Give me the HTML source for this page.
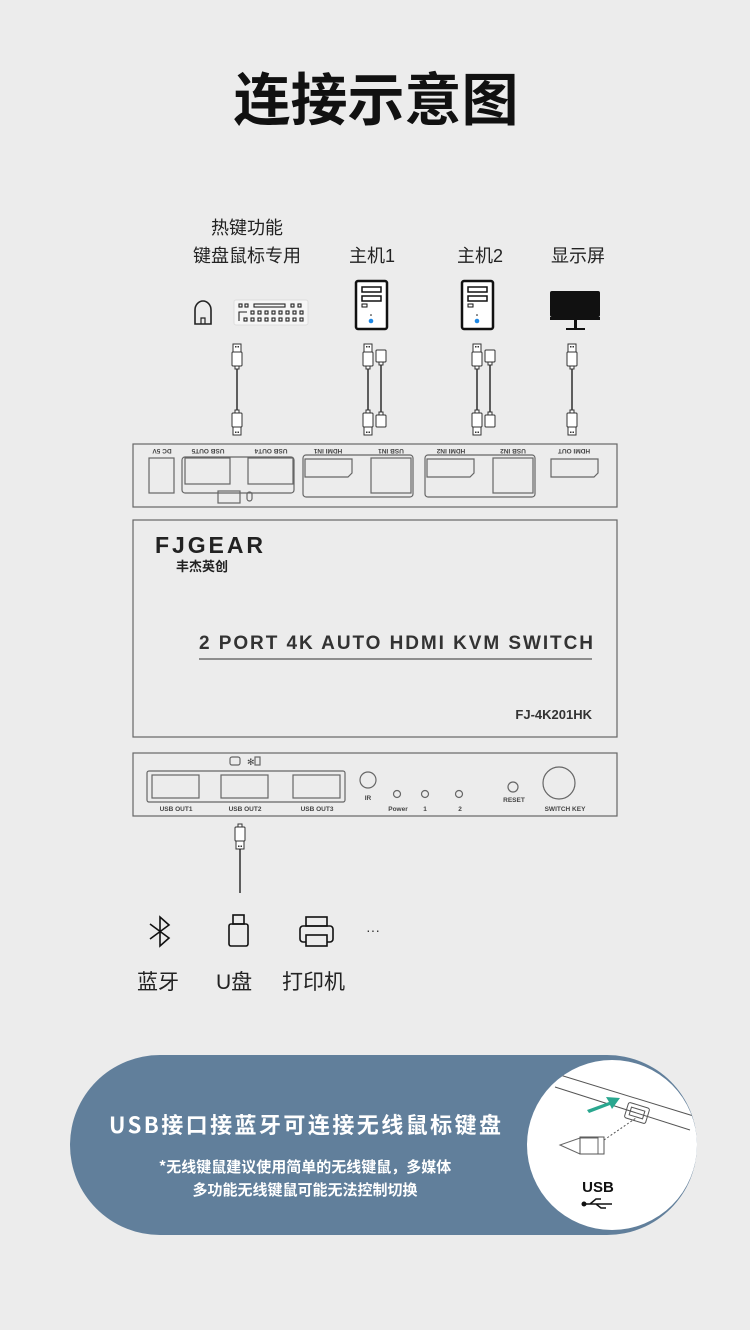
<!DOCTYPE html>
<html><head><meta charset="utf-8"><style>
body{margin:0;background:#ececec;}
svg{display:block}
text{font-family:"Liberation Sans","Noto Sans CJK SC",sans-serif;}
</style></head><body>
<svg width="750" height="1330" viewBox="0 0 750 1330" xmlns="http://www.w3.org/2000/svg">
<rect width="750" height="1330" fill="#ececec"/>
<text x="376" y="120" text-anchor="middle" font-size="57" font-weight="bold" fill="#111" style="font-family:'Noto Sans CJK SC',sans-serif">连接示意图</text>
<g font-size="18" fill="#222" text-anchor="middle" style="font-family:'Noto Sans CJK SC',sans-serif">
<text x="247" y="234">热键功能</text>
<text x="247" y="262">键盘鼠标专用</text>
<text x="372" y="262">主机1</text>
<text x="480" y="262">主机2</text>
<text x="578" y="262">显示屏</text>
</g>
<path d="M195 324 V310 a8 9 0 0 1 16 0 V324 Z" fill="none" stroke="#222" stroke-width="1.6"/>
<path d="M201 324 v-6 h4 v6" fill="none" stroke="#222" stroke-width="1.2"/>
<rect x="234" y="300" width="74" height="25" rx="2" fill="#f6f6f6" stroke="#ddd"/>
<g fill="none" stroke="#222" stroke-width="1.1">
<rect x="239" y="304" width="3" height="3"/><rect x="245" y="304" width="3" height="3"/><rect x="254" y="304" width="31" height="3"/><rect x="291" y="304" width="3" height="3"/><rect x="298" y="304" width="3" height="3"/>
<path d="M239 321 V312 H247"/>
<rect x="251" y="311" width="3" height="3"/><rect x="258" y="311" width="3" height="3"/><rect x="265" y="311" width="3" height="3"/><rect x="272" y="311" width="3" height="3"/><rect x="279" y="311" width="3" height="3"/><rect x="286" y="311" width="3" height="3"/><rect x="293" y="311" width="3" height="3"/><rect x="300" y="311" width="3" height="3"/>
<rect x="244" y="318" width="3" height="3"/><rect x="251" y="318" width="3" height="3"/><rect x="258" y="318" width="3" height="3"/><rect x="265" y="318" width="3" height="3"/><rect x="272" y="318" width="3" height="3"/><rect x="279" y="318" width="3" height="3"/><rect x="286" y="318" width="3" height="3"/><rect x="293" y="318" width="3" height="3"/><rect x="300" y="318" width="3" height="3"/>
</g>
<g id="pc">
<rect x="356" y="281" width="31" height="48" rx="2" fill="#fff" stroke="#111" stroke-width="2.5"/>
<rect x="362" y="287" width="19" height="5" fill="none" stroke="#111" stroke-width="1.5"/>
<rect x="362" y="296" width="19" height="5" fill="none" stroke="#111" stroke-width="1.5"/>
<rect x="362" y="304" width="5" height="3" fill="none" stroke="#111" stroke-width="1"/>
<circle cx="371" cy="315" r="0.8" fill="#111"/>
<circle cx="371" cy="321" r="2.3" fill="#1e88e5"/>
</g>
<use href="#pc" x="106"/>
<rect x="550" y="291" width="50" height="26" rx="2" fill="#111"/>
<rect x="550" y="317" width="50" height="3" fill="#111"/>
<rect x="574" y="320" width="3" height="8" fill="#111"/>
<rect x="566" y="328" width="19" height="2" fill="#111"/>
<defs>
<g id="plugT"><rect x="-4" y="0" width="8" height="8" fill="#fff" stroke="#333"/><rect x="-2" y="2" width="1.5" height="1.5" fill="#333"/><rect x="0.5" y="2" width="1.5" height="1.5" fill="#333"/><rect x="-5" y="8" width="10" height="14" rx="1" fill="#fff" stroke="#333"/><rect x="-2" y="22" width="4" height="3" fill="#fff" stroke="#333"/></g>
<g id="plugB"><use href="#plugT" transform="scale(1,-1)"/></g>
<g id="hT"><rect x="-5" y="0" width="10" height="12" rx="1" fill="#fff" stroke="#333"/><rect x="-2" y="12" width="4" height="3" fill="#fff" stroke="#333"/></g>
<g id="hB"><use href="#hT" transform="scale(1,-1)"/></g>
</defs>
<g stroke="#111" stroke-width="1.3">
<line x1="237" y1="368" x2="237" y2="410"/>
<line x1="368" y1="368" x2="368" y2="410"/>
<line x1="381" y1="365" x2="381" y2="413"/>
<line x1="477" y1="368" x2="477" y2="410"/>
<line x1="490" y1="365" x2="490" y2="413"/>
<line x1="572" y1="368" x2="572" y2="410"/>
</g>
<use href="#plugT" x="237" y="344"/><use href="#plugB" x="237" y="435"/>
<use href="#plugT" x="368" y="344"/><use href="#plugB" x="368" y="435"/>
<use href="#hT" x="381" y="350"/><use href="#hB" x="381" y="427"/>
<use href="#plugT" x="477" y="344"/><use href="#plugB" x="477" y="435"/>
<use href="#hT" x="490" y="350"/><use href="#hB" x="490" y="427"/>
<use href="#plugT" x="572" y="344"/><use href="#plugB" x="572" y="435"/>
<g fill="none" stroke="#666" stroke-width="1.2">
<rect x="133" y="444" width="484" height="63"/>
<rect x="149" y="458" width="25" height="35"/>
<rect x="182" y="457" width="112" height="36" rx="3"/>
<rect x="185" y="458" width="45" height="26"/>
<rect x="248" y="458" width="45" height="26"/>
<rect x="303" y="455" width="110" height="42" rx="3"/>
<path d="M305 459 H352 V473 L348 477 H305 Z"/>
<rect x="371" y="458" width="40" height="35"/>
<rect x="425" y="455" width="110" height="42" rx="3"/>
<path d="M427 459 H474 V473 L470 477 H427 Z"/>
<rect x="493" y="458" width="40" height="35"/>
<path d="M551 459 H598 V473 L594 477 H551 Z"/>
<rect x="218" y="491" width="22" height="12"/>
<rect x="247" y="492" width="5" height="9" rx="2.5"/>
</g>
<g font-size="6.5" fill="#444" text-anchor="middle" font-weight="bold">
<text x="162" y="453" transform="rotate(180 162 451)">DC 5V</text>
<text x="208" y="453" transform="rotate(180 208 451)">USB OUT5</text>
<text x="271" y="453" transform="rotate(180 271 451)">USB OUT4</text>
<text x="328" y="453" transform="rotate(180 328 451)">HDMI IN1</text>
<text x="391" y="453" transform="rotate(180 391 451)">USB IN1</text>
<text x="451" y="453" transform="rotate(180 451 451)">HDMI IN2</text>
<text x="513" y="453" transform="rotate(180 513 451)">USB IN2</text>
<text x="574" y="453" transform="rotate(180 574 451)">HDMI OUT</text>
</g>
<rect x="133" y="520" width="484" height="217" fill="none" stroke="#666" stroke-width="1.2"/>
<text x="155" y="553" font-size="23" font-weight="bold" fill="#222" textLength="108">FJGEAR</text>
<text x="176" y="571" font-size="13" font-weight="bold" fill="#222" style="font-family:'Noto Sans CJK SC',sans-serif">丰杰英创</text>
<text x="593" y="649" font-size="19" fill="#333" text-anchor="end" font-weight="bold" textLength="394">2 PORT 4K AUTO HDMI KVM SWITCH</text>
<line x1="199" y1="659" x2="592" y2="659" stroke="#555" stroke-width="1.2"/>
<text x="592" y="719" font-size="13" fill="#333" text-anchor="end" font-weight="bold">FJ-4K201HK</text>
<g fill="none" stroke="#666" stroke-width="1.2">
<rect x="133" y="753" width="484" height="63"/>
<rect x="147" y="771" width="198" height="31" rx="2"/>
<rect x="152" y="775" width="47" height="23"/>
<rect x="221" y="775" width="47" height="23"/>
<rect x="293" y="775" width="47" height="23"/>
<circle cx="368" cy="780" r="8"/>
<circle cx="397" cy="794" r="3.5"/>
<circle cx="425" cy="794" r="3.5"/>
<circle cx="459" cy="794" r="3.5"/>
<circle cx="513" cy="787" r="5"/>
<circle cx="559" cy="783" r="16"/>
<rect x="230" y="757" width="10" height="8" rx="2"/>
<rect x="255" y="757" width="5" height="8"/>
</g>
<text x="247" y="765" font-size="9" fill="#444">✻</text>
<g font-size="6.5" fill="#444" text-anchor="middle" font-weight="bold">
<text x="176" y="811">USB OUT1</text><text x="245" y="811">USB OUT2</text><text x="317" y="811">USB OUT3</text>
<text x="368" y="800">IR</text><text x="398" y="811">Power</text><text x="425" y="811">1</text><text x="460" y="811">2</text>
<text x="514" y="802">RESET</text><text x="565" y="811">SWITCH KEY</text>
</g>
<use href="#plugB" x="240" y="849"/>
<line x1="240" y1="849" x2="240" y2="893" stroke="#111" stroke-width="1.3"/>
<path d="M150 924 L169 938 L160 946 V917 L169 925 L150 939" fill="none" stroke="#111" stroke-width="1.6"/>
<rect x="229" y="924" width="19" height="22" rx="2" fill="none" stroke="#111" stroke-width="1.6"/>
<rect x="233" y="915" width="11" height="9" fill="none" stroke="#111" stroke-width="1.6"/>
<rect x="306" y="917" width="21" height="9" fill="none" stroke="#111" stroke-width="1.6"/>
<rect x="300" y="926" width="33" height="16" rx="3" fill="none" stroke="#111" stroke-width="1.6"/>
<rect x="306" y="935" width="21" height="11" fill="#ececec" stroke="#111" stroke-width="1.6"/>
<text x="366" y="935" font-size="14" fill="#333">···</text>
<g font-size="21" fill="#222" style="font-family:'Noto Sans CJK SC',sans-serif">
<text x="137" y="989">蓝牙</text><text x="216" y="989">U盘</text><text x="282" y="989">打印机</text>
</g>
<rect x="70" y="1055" width="627" height="180" rx="90" fill="#617f9b"/>
<text x="305" y="1133" font-size="22" font-weight="bold" fill="#fff" text-anchor="middle" textLength="392" style="font-family:'Noto Sans CJK SC',sans-serif">USB接口接蓝牙可连接无线鼠标键盘</text>
<text x="305" y="1172" font-size="15" font-weight="bold" fill="#fff" text-anchor="middle" style="font-family:'Noto Sans CJK SC',sans-serif">*无线键鼠建议使用简单的无线键鼠，多媒体</text>
<text x="305" y="1195" font-size="15" font-weight="bold" fill="#fff" text-anchor="middle" style="font-family:'Noto Sans CJK SC',sans-serif">多功能无线键鼠可能无法控制切换</text>
<circle cx="612" cy="1145" r="85" fill="#fff"/>
<clipPath id="cc"><circle cx="612" cy="1145" r="85"/></clipPath>
<g clip-path="url(#cc)" fill="none" stroke="#555" stroke-width="1">
<line x1="555" y1="1087" x2="690" y2="1130"/>
<line x1="560" y1="1075" x2="700" y2="1118"/>
<rect x="626" y="1105" width="22" height="16" rx="2" transform="rotate(17 637 1113)"/>
<rect x="630" y="1109" width="14" height="8" transform="rotate(17 637 1113)"/>
<path d="M560 1145 l20 -7 h18 v16 h-18 z" stroke="#666"/>
<rect x="580" y="1137" width="24" height="17"/>
<line x1="604" y1="1140" x2="636" y2="1118" stroke-dasharray="2 2"/>
</g>
<path d="M587 1110 l22 -8 l-3 -5 l14 1 l-8 11 l-2 -4 l-21 8 z" fill="#2aa78f"/>
<text x="598" y="1192" font-size="15" font-weight="bold" fill="#111" text-anchor="middle">USB</text>
<path d="M584 1204 h28 M590 1204 l6 -5 h5 M596 1204 l5 4 h5" stroke="#111" stroke-width="1.5" fill="none"/>
<circle cx="584" cy="1204" r="2.5" fill="#111"/>
</svg>
</body></html>
